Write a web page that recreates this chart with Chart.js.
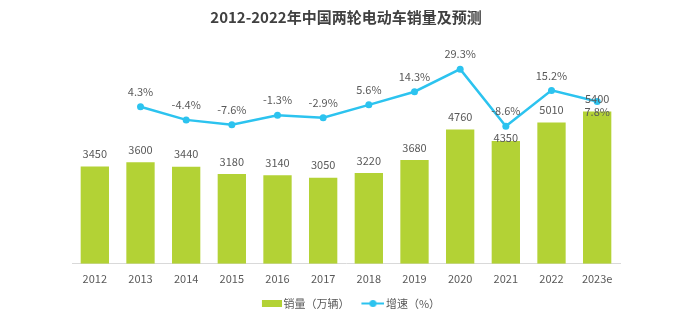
<!DOCTYPE html>
<html>
<head>
<meta charset="utf-8">
<script src="https://cdn.jsdelivr.net/npm/chart.js@4.4.0/dist/chart.umd.min.js"></script>
<style>
  html, body { margin: 0; padding: 0; background: #fff; }
  #wrap { width: 681px; height: 323px; }
</style>
</head>
<body>
<div id="wrap"><canvas id="evSalesChart"></canvas></div>
<script>
const years = ['2012', '2013', '2014', '2015', '2016', '2017', '2018', '2019', '2020', '2021', '2022', '2023e'];
const sales = [3450, 3600, 3440, 3180, 3140, 3050, 3220, 3680, 4760, 4350, 5010, 5400];
const growth = [null, 4.3, -4.4, -7.6, -1.3, -2.9, 5.6, 14.3, 29.3, -8.6, 15.2, 7.8];

const barColor = '#b3d235';
const lineColor = '#2cc3ef';
const textColor = '#595959';
const fontFamily = '"Noto Sans CJK SC", "Noto Sans", sans-serif';

// legend swatches, right-aligned inside a wider transparent box
function swatch(w, h, paint) {
    const c = document.createElement('canvas');
    c.width = w;
    c.height = h;
    paint(c.getContext('2d'));
    return c;
}
const barSwatch = swatch(34, 9, g => {
    g.fillStyle = barColor;
    g.fillRect(14, 1, 20, 7);
});
const lineSwatch = swatch(34, 9, g => {
    g.strokeStyle = lineColor;
    g.lineWidth = 2;
    g.beginPath();
    g.moveTo(11, 4.5);
    g.lineTo(34, 4.5);
    g.stroke();
    g.fillStyle = lineColor;
    g.beginPath();
    g.arc(22.5, 4.5, 3.5, 0, Math.PI * 2);
    g.fill();
});

// numbers above bars and points
const valueLabels = {
    id: 'valueLabels',
    afterDatasetsDraw(chart) {
        const ctx = chart.ctx;
        ctx.save();
        ctx.font = '11px ' + fontFamily;
        ctx.fillStyle = textColor;
        ctx.textAlign = 'center';
        ctx.textBaseline = 'middle';
        chart.getDatasetMeta(0).data.forEach((bar, i) => {
            const lift = i === 9 ? 3 : 12.5;
            ctx.fillText(String(sales[i]), bar.x, bar.y - lift);
        });
        chart.getDatasetMeta(1).data.forEach((pt, i) => {
            if (growth[i] === null) return;
            const dy = i === 11 ? 10 : -15;
            ctx.fillText(growth[i].toFixed(1) + '%', pt.x, pt.y + dy);
        });
        ctx.restore();
    }
};

const ctx = document.getElementById('evSalesChart').getContext('2d');
const evSalesChart = new Chart(ctx, {
    data: {
        labels: years,
        datasets: [{
            type: 'bar',
            label: '销量（万辆）',
            data: sales,
            backgroundColor: barColor,
            yAxisID: 'ySales',
            categoryPercentage: 1,
            barPercentage: 0.62,
            order: 2
        }, {
            type: 'line',
            label: '增速（%）',
            data: growth,
            borderColor: lineColor,
            backgroundColor: lineColor,
            borderWidth: 2.5,
            pointRadius: 3.5,
            pointBorderWidth: 0,
            pointBackgroundColor: lineColor,
            yAxisID: 'yGrowth',
            tension: 0,
            order: 1
        }]
    },
    options: {
        responsive: true,
        maintainAspectRatio: false,
        animation: false,
        layout: {
            padding: { left: 72, right: 61, top: 0, bottom: 4 }
        },
        plugins: {
            title: {
                display: true,
                text: '2012-2022年中国两轮电动车销量及预测',
                color: '#404040',
                font: { family: fontFamily, size: 15, weight: 'bold' },
                padding: { top: 8, bottom: 12 }
            },
            legend: {
                position: 'bottom',
                labels: {
                    usePointStyle: true,
                    pointStyleWidth: 26,
                    color: textColor,
                    font: { family: fontFamily, size: 11 },
                    padding: 5,
                    sort: (a, b) => a.datasetIndex - b.datasetIndex,
                    generateLabels(chart) {
                        const items = Chart.defaults.plugins.legend.labels.generateLabels(chart);
                        items.forEach(item => {
                            item.pointStyle = item.datasetIndex === 0 ? barSwatch : lineSwatch;
                        });
                        return items;
                    }
                }
            },
            tooltip: { enabled: false }
        },
        scales: {
            x: {
                offset: true,
                grid: { display: false, drawTicks: false },
                border: { display: true, color: '#d9d9d9', width: 1 },
                ticks: {
                    color: textColor,
                    padding: 8,
                    font: { family: fontFamily, size: 11 }
                }
            },
            ySales: {
                display: false,
                position: 'left',
                min: 0,
                max: 8000
            },
            yGrowth: {
                display: false,
                position: 'right',
                min: -100,
                max: 50
            }
        }
    },
    plugins: [valueLabels]
});
</script>
</body>
</html>
